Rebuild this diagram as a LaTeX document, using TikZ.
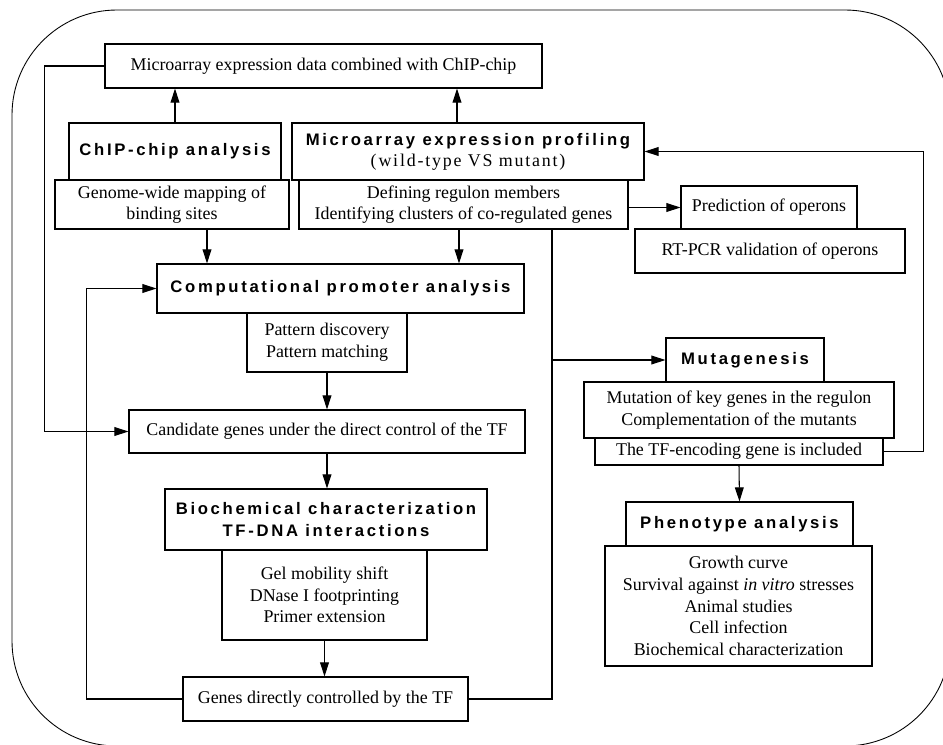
\documentclass[tikz,border=0pt]{standalone}
\usepackage{fontspec}
\setmainfont{Liberation Serif}
\newfontfamily\headfont[LetterSpace=16]{Liberation Sans}
\newfontfamily\spacedfont[LetterSpace=10]{Liberation Serif}
\usetikzlibrary{arrows.meta}

\begin{document}
\begin{tikzpicture}[x=0.02cm,y=-0.02cm,>={Triangle[length=8pt,width=5pt]},line width=0.6pt,
  box/.style={draw,inner sep=0pt,align=center,font=\fontsize{10.2}{12.3}\selectfont},
  head/.style={box,font=\fontsize{9.5}{12}\selectfont\headfont\bfseries},
  wh/.style 2 args={minimum width=#1*0.02cm,minimum height=#2*0.02cm}]
\useasboundingbox (0,0) rectangle (943,744);
\clip (0,0) rectangle (943,744);
\draw[line width=0.5pt,rounded corners=2.1cm] (12,10) rectangle (950,746);

\node[box,wh={437}{44}] (mcomb) at (323.5,66) {Microarray expression data combined with ChIP-chip};
\node[head,wh={212}{57}] (chip) at (175,151.5) {ChIP-chip analysis};
\node[box,wh={234}{49}] (genome) at (172,204.5) {Genome-wide mapping of\\binding sites};
\node[head,wh={352}{57}] (micro) at (468,151.5) {Microarray expression profiling\\{\fontsize{10.2}{12}\spacedfont\mdseries(wild-type VS mutant)}};
\node[box,wh={329}{49}] (defining) at (463.5,204.5) {Defining regulon members\\Identifying clusters of co-regulated genes};
\node[box,wh={176}{43}] (pred) at (769,207.5) {Prediction of operons};
\node[box,wh={270}{44}] (rtpcr) at (770,251) {RT-PCR validation of operons};
\node[head,wh={367}{49}] (comp) at (340.5,288.5) {Computational promoter analysis};
\node[box,wh={160}{59}] (pattern) at (327,342.5) {Pattern discovery\\Pattern matching};
\node[box,wh={396}{43}] (cand) at (327,431.5) {Candidate genes under the direct control of the TF};
\node[head,wh={322}{61}] (biochem) at (326,519.5) {Biochemical characterization\\TF-DNA interactions};
\node[box,wh={205}{90}] (gel) at (324.5,595) {Gel mobility shift\\DNase I footprinting\\Primer extension};
\node[box,wh={285}{44}] (genes) at (325.5,699) {Genes directly controlled by the TF};
\node[head,wh={158}{44}] (mut) at (745,360) {Mutagenesis};
\node[box,wh={310}{56}] (mutation) at (739,410) {Mutation of key genes in the regulon\\Complementation of the mutants};
\node[box,wh={288}{27}] (tfenc) at (739,451.5) {The TF-encoding gene is included};
\node[head,wh={227}{44}] (pheno) at (739.5,524) {Phenotype analysis};
\node[box,wh={267}{120}] (phenolist) at (738.5,606) {Growth curve\\Survival against \textit{in vitro} stresses\\Animal studies\\Cell infection\\Biochemical characterization};

\draw[->] (chip.north) -- (chip.north |- mcomb.south);
\draw[->] ([xshift=-0.22cm]micro.north) -- ([xshift=-0.22cm]micro.north |- mcomb.south);
\draw[->] ([xshift=0.7cm]genome.south) -- ([xshift=0.7cm]genome.south |- comp.north);
\draw[->] ([xshift=-0.09cm]defining.south) -- ([xshift=-0.09cm]defining.south |- comp.north);
\draw[->] (defining.east |- pred.west) -- (pred.west);
\draw[->] (pattern.south) -- (pattern.south |- cand.north);
\draw[->] (cand.south) -- (cand.south |- biochem.north);
\draw[->] (gel.south) -- (gel.south |- genes.north);
\draw[->] (genes.west) -- ++(-96,0) |- (comp.west);
\draw[->] (mcomb.west) -- ++(-60,0) |- (cand.west);
\coordinate (split) at (552,360);
\draw (genes.east) -| (split |- defining.south);
\draw[->] (split) -- (mut.west);
\draw[->] (tfenc.east) -- ++(40,0) |- (micro.east);
\draw[->] (tfenc.south) -- (pheno.north);
\end{tikzpicture}
\end{document}
